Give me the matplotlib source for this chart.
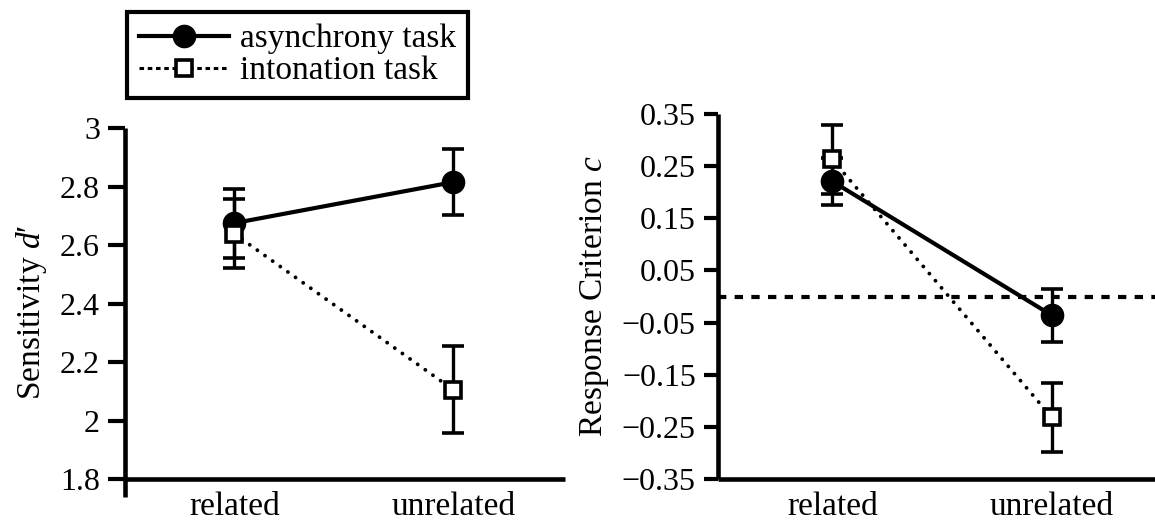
import matplotlib
matplotlib.use("Agg")
import matplotlib.pyplot as plt
from matplotlib.lines import Line2D
import numpy as np

plt.rcParams['font.family'] = ['Liberation Serif', 'DejaVu Serif']
plt.rcParams['mathtext.fontset'] = 'custom'
plt.rcParams['mathtext.rm'] = 'Liberation Serif'
plt.rcParams['mathtext.it'] = 'Liberation Serif:italic'

# ---- data ----
conditions = ["related", "unrelated"]
series_names = ["asynchrony task", "intonation task"]

dprime_async = [2.675, 2.815]
dprime_async_err = [0.118, 0.113]
dprime_inton = [2.638, 2.105]
dprime_inton_err = [0.118, 0.148]

crit_async = [0.221, -0.036]
crit_async_err = [0.045, 0.051]
crit_inton = [0.263, -0.232]
crit_inton_err = [0.066, 0.066]

left_ticks = [1.8, 2.0, 2.2, 2.4, 2.6, 2.8, 3.0]
left_ticklabels = ["1.8", "2", "2.2", "2.4", "2.6", "2.8", "3"]
right_ticks = [-0.35, -0.25, -0.15, -0.05, 0.05, 0.15, 0.25, 0.35]
right_ticklabels = ["\u22120.35", "\u22120.25", "\u22120.15", "\u22120.05",
                    "0.05", "0.15", "0.25", "0.35"]

FS = 23
W, H = 1155, 520
fig = plt.figure(figsize=(W / 100, H / 100), dpi=100)

ax1 = fig.add_axes([125 / W, 1 - 497 / H, 440 / W, (497 - 128) / H])
ax2 = fig.add_axes([718 / W, 1 - 479 / H, 437 / W, (479 - 114) / H])

x = np.arange(len(conditions))
DOT = (0, (0.01, 2.4))

def draw(ax, a, ae, b, be):
    la = ax.errorbar(x, a, yerr=ae, color='black', lw=3, ls='-',
                     marker='o', ms=16, mfc='black', mec='black',
                     elinewidth=2.4, capsize=8, capthick=2.6, zorder=3)
    lb = ax.errorbar(x, b, yerr=be, color='black', lw=2.8, ls=DOT,
                     dash_capstyle='round',
                     marker='s', ms=12, mfc='white', mec='black', mew=2.6,
                     elinewidth=2.4, capsize=8, capthick=2.6, zorder=4)
    for ln in (la.lines[0], lb.lines[0]):
        ln.set_clip_on(False)

draw(ax1, dprime_async, dprime_async_err, dprime_inton, dprime_inton_err)
draw(ax2, crit_async, crit_async_err, crit_inton, crit_inton_err)

ax2.axhline(0, color='black', lw=3, ls=(0, (2, 2)), zorder=1)

# left axis styling
ax1.set_xlim(-0.5, 1.51)
ax1.set_ylim(1.8 - 18 / 292.5, 3.0)
ax1.spines['bottom'].set_position(('data', 1.8))
ax1.set_yticks(left_ticks)
ax1.set_yticklabels(left_ticklabels)
ax1.set_ylabel("Sensitivity $d$\u2032", fontsize=FS + 1, labelpad=8)

ax2.set_xlim(-0.52, 1.47)
ax2.set_ylim(-0.35, 0.35)
ax2.set_yticks(right_ticks)
ax2.set_yticklabels(right_ticklabels)
ax2.set_ylabel("Response Criterion $c$", fontsize=FS + 1, labelpad=8)

for ax, tl in ((ax1, 12), (ax2, 10)):
    ax.set_xticks(x)
    ax.set_xticklabels(conditions)
    for s in ('top', 'right'):
        ax.spines[s].set_visible(False)
    for s in ('left', 'bottom'):
        ax.spines[s].set_linewidth(3.3)
        ax.spines[s].set_capstyle('butt')
    ax.tick_params(axis='y', length=tl, width=3, direction='out',
                   labelsize=FS, pad=6)
    ax.tick_params(axis='x', length=0, labelsize=FS + 1, pad=9)
    ax.patch.set_alpha(0)

# legend
h1 = Line2D([], [], color='black', lw=3, ls='-', marker='o', ms=16,
            mfc='black', mec='black')
h2 = Line2D([], [], color='black', lw=2.2, ls=(0, (1.5, 1.2)), marker='s',
            ms=12, mfc='white', mec='black', mew=2.6)
leg = fig.legend(handles=[h1, h2], labels=series_names,
                 loc='upper left', bbox_to_anchor=(127 / W, 1 - 12 / H),
                 fontsize=FS + 1, frameon=True, fancybox=False, framealpha=1,
                 edgecolor='black', handlelength=2.7, handletextpad=0.35,
                 borderpad=0.35, labelspacing=0.05, borderaxespad=0)
leg.get_frame().set_linewidth(3)

fig.savefig("out.png", dpi=100)
